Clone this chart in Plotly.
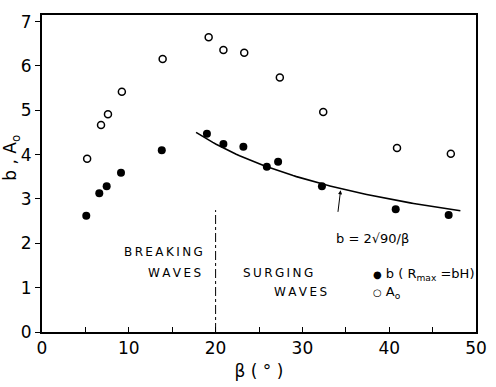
import numpy as np
import plotly.graph_objects as go

# A0 (open circles)
a_beta = [5.2, 6.8, 7.6, 9.2, 13.9, 19.2, 20.9, 23.3, 27.4, 32.4, 40.9, 47.1]
a_val = [3.91, 4.67, 4.91, 5.42, 6.16, 6.65, 6.36, 6.30, 5.74, 4.96, 4.15, 4.02]

# b (filled circles)
b_beta = [5.1, 6.6, 7.45, 9.1, 13.8, 19.0, 20.9, 23.2, 25.9, 27.2, 32.25, 40.75, 46.85]
b_val = [2.62, 3.13, 3.29, 3.59, 4.10, 4.47, 4.24, 4.18, 3.73, 3.84, 3.29, 2.77, 2.64]

# fitted curve b = 2*sqrt(90/beta)
curve_beta = np.linspace(17.75, 48.2, 80)
curve_b = 2 * np.sqrt(90 / curve_beta)

# breaking / surging boundary
bound_x = [20, 20]
bound_y = [0, 2.75]

FONT = "DejaVu Sans"

fig = go.Figure()
fig.add_trace(go.Scatter(x=bound_x, y=bound_y, mode="lines",
                         line=dict(color="black", width=1, dash="dashdot"),
                         showlegend=False, hoverinfo="skip"))
fig.add_trace(go.Scatter(x=curve_beta, y=curve_b, mode="lines",
                         line=dict(color="black", width=1.6),
                         showlegend=False))
fig.add_trace(go.Scatter(x=a_beta, y=a_val, mode="markers",
                         marker=dict(symbol="circle-open", size=7, color="black",
                                     line=dict(width=1.5, color="black")),
                         showlegend=False))
fig.add_trace(go.Scatter(x=b_beta, y=b_val, mode="markers",
                         marker=dict(symbol="circle", size=8, color="black"),
                         showlegend=False))

def sp(s):
    return "\u2009".join(list(s))

ann = [
    dict(x=14.0, y=1.80, text=sp("BREAKING"), xanchor="center"),
    dict(x=18.6, y=1.34, text=sp("WAVES"), xanchor="right"),
    dict(x=22.9, y=1.34, text=sp("SURGING"), xanchor="left"),
    dict(x=26.5, y=0.91, text=sp("WAVES"), xanchor="left"),
]
for a in ann:
    fig.add_annotation(x=a["x"], y=a["y"], text=a["text"], xanchor=a["xanchor"],
                       yanchor="middle", showarrow=False,
                       font=dict(family=FONT, size=12, color="black"))

# formula label
fig.add_annotation(x=33.6, y=2.11, text="b = 2\u221a90/\u03b2", xanchor="left",
                   yanchor="middle", showarrow=False,
                   font=dict(family=FONT, size=13, color="black"))
# arrow pointing to the curve
fig.add_annotation(x=34.4, y=2 * np.sqrt(90 / 34.4) - 0.04, text=" ", showarrow=True,
                   ax=-4, ay=33, arrowhead=2, arrowsize=0.8, arrowwidth=1,
                   arrowcolor="black")

# legend (as text)
fig.add_annotation(x=37.9, y=1.30,
                   text="<span style='font-size:10px'>\u25cf</span> b ( R<sub>max</sub> =bH)",
                   xanchor="left", yanchor="middle", showarrow=False,
                   font=dict(family=FONT, size=13, color="black"))
fig.add_annotation(x=37.9, y=0.89,
                   text="<span style='font-size:10px'>\u25cb</span> A<sub>o</sub>",
                   xanchor="left", yanchor="middle", showarrow=False,
                   font=dict(family=FONT, size=13, color="black"))

# y-axis title
fig.add_annotation(xref="paper", x=0, xshift=-30, y=3.93, text="b , A<sub>o</sub>",
                   textangle=-90, showarrow=False, xanchor="center", yanchor="middle",
                   font=dict(family=FONT, size=17, color="black"))

fig.update_layout(
    width=496, height=387,
    margin=dict(l=42, r=9, t=15, b=50),
    plot_bgcolor="white", paper_bgcolor="white",
    font=dict(family=FONT, size=17, color="black"),
    xaxis=dict(range=[0, 50], dtick=10, ticks="inside", ticklen=5, tickwidth=1.2,
               tickcolor="black", showline=True, linewidth=2, linecolor="black",
               mirror=True, showgrid=False, zeroline=False,
               minor=dict(dtick=5, ticks="inside", ticklen=5, tickwidth=1.2,
                          tickcolor="black"),
               tickfont=dict(family=FONT, size=17),
               title=dict(text="\u03b2 ( \u00b0 )", standoff=8,
                          font=dict(family=FONT, size=17))),
    yaxis=dict(range=[0, 7.15], dtick=1, ticks="outside", ticklen=5, tickwidth=1.2,
               tickcolor="black", showline=True, linewidth=2, linecolor="black",
               mirror=True, showgrid=False, zeroline=False,
               tickfont=dict(family=FONT, size=17)),
)

fig.write_html("out.html")
